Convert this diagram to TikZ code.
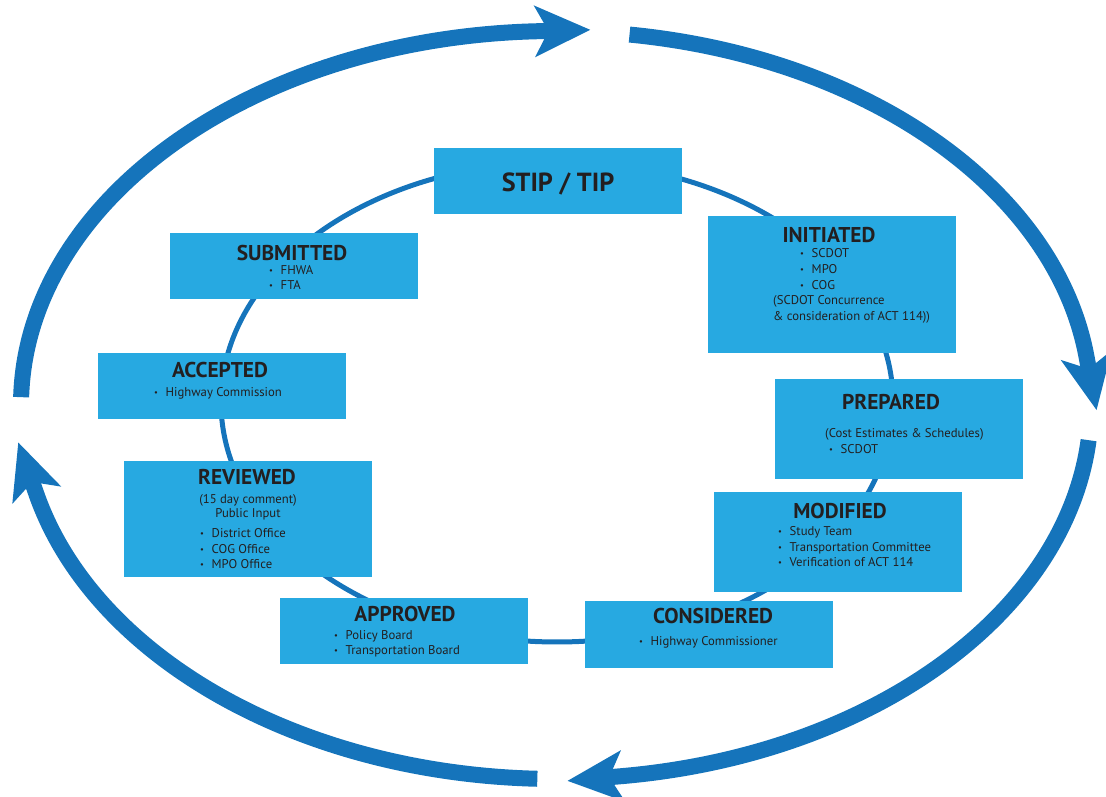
\documentclass[tikz,border=0pt]{standalone}
\usepackage{fontspec}
\setmainfont{PT Sans}
\usetikzlibrary{arrows.meta,shapes.geometric}
\definecolor{boxblue}{HTML}{27A9E1}
\definecolor{ringblue}{HTML}{1574BB}
\definecolor{txt}{HTML}{231F20}
\newcommand\bul{\makebox[11.5pt][l]{\raisebox{0.3ex}{\fontsize{8.5}{8.5}\selectfont\textbullet}}}
\begin{document}
\begin{tikzpicture}[x=1pt,y=1pt,
  box/.style={fill=boxblue,draw=none,inner sep=0pt,minimum width=248pt,anchor=south west},
  ttl/.style={font=\fontsize{21.4}{24}\selectfont\bfseries,text=txt,inner sep=0pt,anchor=base},
  bt/.style={font=\fontsize{12.7}{14}\selectfont,text=txt,inner sep=0pt,anchor=base west},
  bc/.style={bt,anchor=base},
  ringline/.style={draw=ringblue,line width=16pt},
  bigarrow/.style={ringline,-{Stealth[length=55pt,width=50pt,inset=13pt]}}]
\useasboundingbox (0,0) rectangle (1106,797);
% inner ring
\node[draw=ringblue,line width=5pt,ellipse,minimum width=672pt,minimum height=480pt,inner sep=0pt] (ring) at (557,395) {};
% outer arrows
\coordinate (oc) at (556,392);
\draw[bigarrow] ([shift={(178.8:535 and 374)}]oc) arc[start angle=178.8,end angle=92.2,x radius=535,y radius=374] -- ([turn]0:55pt);
\draw[bigarrow] ([shift={(82.1:535 and 374)}]oc) arc[start angle=82.1,end angle=7.5,x radius=535,y radius=374] -- ([turn]0:55pt);
\draw[bigarrow] ([shift={(-5.4:535 and 374)}]oc) arc[start angle=-5.4,end angle=-82.9,x radius=535,y radius=374] -- ([turn]0:55pt);
\draw[bigarrow] ([shift={(-92:535 and 374)}]oc) arc[start angle=-92,end angle=-166.2,x radius=535,y radius=374] -- ([turn]0:55pt);
% boxes
\node[box,minimum height=66pt] (stip) at (434,583) {};
\node[box,minimum height=137pt] (ini) at (708,444) {};
\node[box,minimum height=100pt] (pre) at (775,318) {};
\node[box,minimum height=100pt] (mod) at (714,205) {};
\node[box,minimum height=67pt] (con) at (585,129) {};
\node[box,minimum height=66pt] (app) at (280,133) {};
\node[box,minimum height=116pt] (rev) at (124,220) {};
\node[box,minimum height=66pt] (acc) at (98,378) {};
\node[box,minimum height=66pt] (sub) at (170,498) {};
% texts
\node[ttl,font=\fontsize{26.2}{30}\selectfont\bfseries] (stipT) at (558,605) {STIP / TIP};
\node[ttl] (iniT) at (829,554) {INITIATED};
\node[bt] (ini1) at (800,539) {\bul SCDOT};
\node[bt] (ini2) at (800,523) {\bul MPO};
\node[bt] (ini3) at (800,507) {\bul COG};
\node[bt] (ini4) at (773,492) {(SCDOT Concurrence};
\node[bt] (ini5) at (773,476) {\& consideration of ACT 114))};
\node[ttl] (preT) at (891,387) {PREPARED};
\node[bt] (pre1) at (825,359) {(Cost Estimates \& Schedules)};
\node[bt] (pre2) at (829,343) {\bul SCDOT};
\node[ttl] (modT) at (840,278) {MODIFIED};
\node[bt] (mod1) at (778,261) {\bul Study Team};
\node[bt] (mod2) at (778,245) {\bul Transportation Committee};
\node[bt] (mod3) at (778,230) {\bul Verification of ACT 114};
\node[ttl] (conT) at (713,173) {CONSIDERED};
\node[bt] (con1) at (639,151) {\bul Highway Commissioner};
\node[ttl] (appT) at (405,175) {APPROVED};
\node[bt] (app1) at (334,157) {\bul Policy Board};
\node[bt] (app2) at (334,142) {\bul Transportation Board};
\node[ttl] (revT) at (247,312) {REVIEWED};
\node[bc] (rev1) at (248,293) {(15 day comment)};
\node[bc] (rev2) at (248,279) {Public Input};
\node[bt] (rev3) at (200,259) {\bul District Office};
\node[bt] (rev4) at (200,243) {\bul COG Office};
\node[bt] (rev5) at (200,228) {\bul MPO Office};
\node[ttl] (accT) at (220,419) {ACCEPTED};
\node[bt] (acc1) at (154,400) {\bul Highway Commission};
\node[ttl] (subT) at (292,536) {SUBMITTED};
\node[bt] (sub1) at (269,522) {\bul FHWA};
\node[bt] (sub2) at (269,507) {\bul FTA};
\end{tikzpicture}
\end{document}
